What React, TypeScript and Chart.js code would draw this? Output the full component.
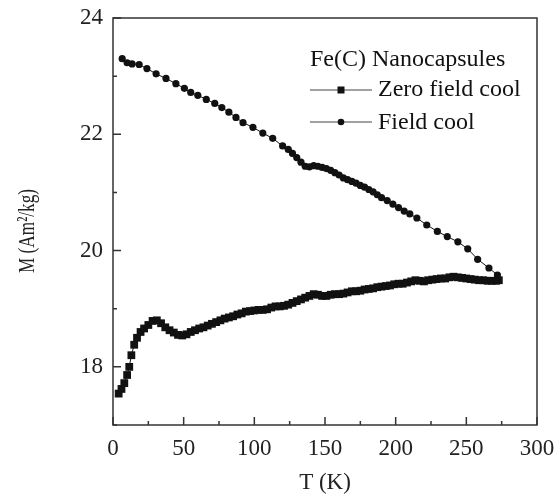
import React, { useEffect, useRef } from "react";
import { Chart, registerables } from "chart.js";

Chart.register(...registerables);

// ---- data ----
const zfcT = [4, 6, 8, 10, 11.5, 13, 15, 17, 19.5, 22, 25, 28, 31, 34, 37, 40, 43, 46, 49, 52, 55, 58, 61, 64, 67, 70, 73, 76, 79, 82, 85, 88, 91, 94, 97, 100, 103, 106, 109, 112, 115, 118, 121, 124, 127, 130, 133, 136, 139, 142, 145, 148, 151, 154, 157, 160, 163, 166, 169, 172, 175, 178, 181, 184, 187, 190, 193, 196, 199, 202, 205, 208, 211, 214, 217, 220, 223, 226, 229, 232, 235, 238, 241, 244, 247, 250, 253, 256, 259, 262, 265, 268, 271, 273];
const zfcM = [17.54, 17.62, 17.72, 17.86, 18.0, 18.2, 18.38, 18.5, 18.6, 18.66, 18.72, 18.79, 18.8, 18.75, 18.68, 18.63, 18.59, 18.55, 18.54, 18.56, 18.6, 18.63, 18.66, 18.68, 18.71, 18.74, 18.77, 18.8, 18.83, 18.85, 18.87, 18.9, 18.92, 18.95, 18.96, 18.97, 18.98, 18.98, 18.99, 19.02, 19.04, 19.04, 19.05, 19.07, 19.1, 19.13, 19.16, 19.19, 19.22, 19.25, 19.24, 19.22, 19.22, 19.24, 19.25, 19.25, 19.26, 19.28, 19.3, 19.3, 19.31, 19.33, 19.34, 19.35, 19.37, 19.38, 19.39, 19.4, 19.42, 19.43, 19.43, 19.45, 19.47, 19.49, 19.48, 19.47, 19.49, 19.5, 19.51, 19.52, 19.52, 19.54, 19.55, 19.54, 19.53, 19.52, 19.51, 19.5, 19.49, 19.49, 19.48, 19.48, 19.48, 19.49];

const fcT = [6.5, 10, 13.5, 18.5, 24, 30.5, 37.5, 44.5, 50.5, 55, 60, 66, 72, 77, 82, 87, 92, 99, 106, 113, 120, 124, 127, 130, 133, 136, 139, 142, 145, 148, 151, 154, 157, 160, 163, 166, 169, 172, 175, 178, 181, 184, 187, 190, 194, 198, 202, 206, 210, 215, 222, 229.5, 236.5, 244, 251, 258, 266, 272];
const fcM = [23.3, 23.23, 23.21, 23.2, 23.13, 23.04, 22.96, 22.87, 22.79, 22.72, 22.67, 22.6, 22.53, 22.46, 22.38, 22.29, 22.2, 22.12, 22.02, 21.93, 21.8, 21.74, 21.67, 21.6, 21.52, 21.45, 21.44, 21.46, 21.45, 21.43, 21.41, 21.38, 21.34, 21.3, 21.25, 21.22, 21.19, 21.16, 21.12, 21.09, 21.05, 21.01, 20.96, 20.91, 20.86, 20.8, 20.74, 20.68, 20.63, 20.56, 20.44, 20.33, 20.24, 20.15, 20.03, 19.85, 19.7, 19.58];

const xMin = 0, xMax = 300, xMajor = 50, xMinor = 25;
const yMin = 17, yMax = 24, yMajor = 2, yMinor = 1;
const legendTitle = "Fe(C) Nanocapsules";
const seriesNames = ["Zero field cool", "Field cool"];
const xTitle = "T (K)";
const yTitle = "M (Am\u00B2/kg)";

const FONT = "'Liberation Serif', 'Times New Roman', Times, serif";
const INK = "#111";
const AXIS = "#333";

const framePlugin = {
  id: "frame",
  afterDraw(chart: any) {
    const { ctx, chartArea, scales } = chart;
    const { left, right, top, bottom } = chartArea;
    const x = scales.x, y = scales.y;
    ctx.save();
    ctx.strokeStyle = AXIS;
    ctx.lineWidth = 1.5;
    ctx.strokeRect(left, top, right - left, bottom - top);
    ctx.beginPath();
    for (let v = xMin; v <= xMax; v += xMinor) {
      const px = x.getPixelForValue(v);
      const len = v % xMajor === 0 ? 8 : 4;
      ctx.moveTo(px, bottom);
      ctx.lineTo(px, bottom - len);
    }
    for (let v = yMin; v <= yMax; v += yMinor) {
      const py = y.getPixelForValue(v);
      const len = v % yMajor === 0 ? 8 : 4;
      ctx.moveTo(left, py);
      ctx.lineTo(left + len, py);
    }
    ctx.stroke();

    // y axis title (compressed, as in the reference)
    ctx.save();
    ctx.fillStyle = "#222";
    ctx.font = `24px ${FONT}`;
    ctx.textAlign = "center";
    ctx.textBaseline = "middle";
    ctx.translate(28, 231);
    ctx.rotate(-Math.PI / 2);
    ctx.fillText(yTitle, 0, 0, 84);
    ctx.restore();

    // legend
    ctx.fillStyle = INK;
    ctx.font = `24px ${FONT}`;
    ctx.textBaseline = "alphabetic";
    ctx.textAlign = "left";
    ctx.fillText(legendTitle, 310, 66);
    const rows = [
      { lineY: 90, base: 96, style: "rect" },
      { lineY: 122, base: 129, style: "circle" },
    ];
    rows.forEach((r, i) => {
      ctx.strokeStyle = "#444";
      ctx.lineWidth = 1;
      ctx.beginPath();
      ctx.moveTo(310, r.lineY);
      ctx.lineTo(372, r.lineY);
      ctx.stroke();
      ctx.fillStyle = INK;
      if (r.style === "rect") {
        ctx.fillRect(341 - 3.5, r.lineY - 3.5, 7, 7);
      } else {
        ctx.beginPath();
        ctx.arc(341, r.lineY, 3.3, 0, Math.PI * 2);
        ctx.fill();
      }
      ctx.fillText(seriesNames[i], 378, r.base);
    });
    ctx.restore();
  },
};

export default function App() {
  const ref = useRef<HTMLCanvasElement>(null);
  useEffect(() => {
    if (!ref.current) return;
    const chart = new Chart(ref.current, {
      type: "scatter",
      data: {
        datasets: [
          {
            label: seriesNames[0],
            data: zfcT.map((t, i) => ({ x: t, y: zfcM[i] })),
            showLine: true,
            borderColor: INK,
            borderWidth: 1,
            backgroundColor: INK,
            pointBackgroundColor: INK,
            pointBorderColor: INK,
            pointStyle: "rect",
            pointRadius: 5.5,
            pointBorderWidth: 0,
          },
          {
            label: seriesNames[1],
            data: fcT.map((t, i) => ({ x: t, y: fcM[i] })),
            showLine: true,
            borderColor: INK,
            borderWidth: 1,
            backgroundColor: INK,
            pointBackgroundColor: INK,
            pointBorderColor: INK,
            pointStyle: "circle",
            pointRadius: 3.6,
            pointBorderWidth: 0,
          },
        ],
      },
      options: {
        responsive: false,
        animation: false,
        events: [],
        layout: { padding: { top: 18, right: 18, left: 0, bottom: 0 } },
        plugins: { legend: { display: false }, tooltip: { enabled: false } },
        scales: {
          x: {
            type: "linear",
            min: xMin,
            max: xMax,
            afterFit: (s: any) => {
              s.height = 72;
              s.paddingLeft = 0;
              s.paddingRight = 0;
            },
            grid: { display: false, drawTicks: false },
            border: { display: false },
            ticks: {
              stepSize: xMinor,
              autoSkip: false,
              maxRotation: 0,
              padding: 10,
              color: "#222",
              font: { family: FONT, size: 23 },
              callback: (v: any) => (Number(v) % xMajor === 0 ? String(v) : ""),
            },
            title: {
              display: true,
              text: xTitle,
              color: "#222",
              font: { family: FONT, size: 23 },
              padding: { top: 0, bottom: 0 },
            },
          },
          y: {
            type: "linear",
            min: yMin,
            max: yMax,
            afterFit: (s: any) => {
              s.width = 113;
              s.paddingTop = 0;
              s.paddingBottom = 0;
            },
            grid: { display: false, drawTicks: false },
            border: { display: false },
            ticks: {
              stepSize: yMinor,
              autoSkip: false,
              padding: 10,
              color: "#222",
              font: { family: FONT, size: 23 },
              callback: (v: any) => (Number(v) % yMajor === 0 ? String(v) : ""),
            },
            title: { display: false },
          },
        },
      },
      plugins: [framePlugin],
    });
    return () => chart.destroy();
  }, []);
  return (
    <div style={{ position: "absolute", left: 0, top: 0, width: 555, height: 497, background: "#fff" }}>
      <canvas ref={ref} width={555} height={497} />
    </div>
  );
}
